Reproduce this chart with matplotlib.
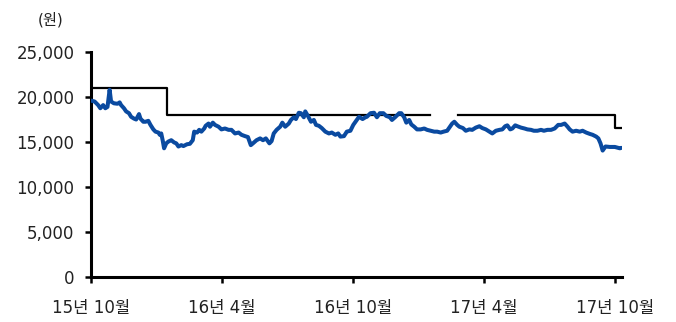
import matplotlib
matplotlib.use("Agg")
import matplotlib.pyplot as plt
import numpy as np
import pandas as pd

plt.rcParams["font.family"] = ["DejaVu Sans", "Noto Sans CJK KR"]

# Daily close (원), sampled every few days
price_dates = [
    "2015-10-01", "2015-10-06", "2015-10-11", "2015-10-14", "2015-10-18", "2015-10-21",
    "2015-10-24", "2015-10-27", "2015-10-29", "2015-11-02", "2015-11-07", "2015-11-10",
    "2015-11-12", "2015-11-16", "2015-11-19", "2015-11-23", "2015-11-26", "2015-11-30",
    "2015-12-03", "2015-12-07", "2015-12-09", "2015-12-13", "2015-12-16", "2015-12-20",
    "2015-12-23", "2015-12-27", "2015-12-30", "2016-01-03", "2016-01-05", "2016-01-07",
    "2016-01-09", "2016-01-11", "2016-01-14", "2016-01-17", "2016-01-21", "2016-01-25",
    "2016-01-28", "2016-01-31", "2016-02-04", "2016-02-07", "2016-02-12", "2016-02-16",
    "2016-02-20", "2016-02-22", "2016-02-26", "2016-02-29", "2016-03-03", "2016-03-07",
    "2016-03-09", "2016-03-13", "2016-03-15", "2016-03-19", "2016-03-22", "2016-03-27",
    "2016-03-31", "2016-04-05", "2016-04-10", "2016-04-14", "2016-04-19", "2016-04-24",
    "2016-04-28", "2016-05-03", "2016-05-07", "2016-05-11", "2016-05-14", "2016-05-19",
    "2016-05-24", "2016-05-28", "2016-06-01", "2016-06-06", "2016-06-09", "2016-06-12",
    "2016-06-16", "2016-06-21", "2016-06-24", "2016-06-28", "2016-07-03", "2016-07-06",
    "2016-07-10", "2016-07-13", "2016-07-17", "2016-07-20", "2016-07-24", "2016-07-26",
    "2016-07-30", "2016-08-03", "2016-08-07", "2016-08-10", "2016-08-14", "2016-08-18",
    "2016-08-23", "2016-08-28", "2016-09-01", "2016-09-06", "2016-09-10", "2016-09-13",
    "2016-09-18", "2016-09-22", "2016-09-27", "2016-10-01", "2016-10-06", "2016-10-09",
    "2016-10-14", "2016-10-18", "2016-10-20", "2016-10-25", "2016-10-30", "2016-11-03",
    "2016-11-07", "2016-11-12", "2016-11-16", "2016-11-21", "2016-11-24", "2016-11-29",
    "2016-12-04", "2016-12-07", "2016-12-11", "2016-12-14", "2016-12-18", "2016-12-21",
    "2016-12-25", "2016-12-29", "2017-01-03", "2017-01-08", "2017-01-12", "2017-01-17",
    "2017-01-22", "2017-01-26", "2017-01-31", "2017-02-04", "2017-02-09", "2017-02-13",
    "2017-02-16", "2017-02-19", "2017-02-23", "2017-02-26", "2017-03-03", "2017-03-07",
    "2017-03-12", "2017-03-16", "2017-03-21", "2017-03-26", "2017-03-30", "2017-04-04",
    "2017-04-09", "2017-04-13", "2017-04-18", "2017-04-23", "2017-04-27", "2017-05-01",
    "2017-05-04", "2017-05-08", "2017-05-11", "2017-05-15", "2017-05-18", "2017-05-23",
    "2017-05-28", "2017-06-01", "2017-06-06", "2017-06-10", "2017-06-15", "2017-06-20",
    "2017-06-24", "2017-06-29", "2017-07-04", "2017-07-09", "2017-07-14", "2017-07-18",
    "2017-07-23", "2017-07-27", "2017-07-30", "2017-08-03", "2017-08-08", "2017-08-13",
    "2017-08-17", "2017-08-22", "2017-08-27", "2017-08-31", "2017-09-05", "2017-09-08",
    "2017-09-11", "2017-09-14", "2017-09-18", "2017-09-24", "2017-10-01", "2017-10-08",
    "2017-10-10",
]
price_values = [
    19600, 19500, 19100, 18750, 19100, 18750,
    18900, 20800, 19500, 19300, 19250, 19400,
    19100, 18750, 18400, 18200, 17800, 17600,
    17500, 18100, 17600, 17250, 17250, 17350,
    16900, 16400, 16150, 16050, 15800, 15950,
    15200, 14300, 14850, 15050, 15200, 14950,
    14850, 14500, 14650, 14550, 14750, 14800,
    15200, 16150, 16050, 16350, 16150, 16500,
    16800, 17050, 16700, 17150, 16900, 16700,
    16400, 16500, 16350, 16350, 15950, 16050,
    15800, 15650, 15550, 14650, 14850, 15200,
    15400, 15200, 15400, 14850, 15100, 15950,
    16350, 16700, 17150, 16700, 17050, 17450,
    17750, 17550, 18250, 18200, 17750, 18400,
    17850, 17250, 17450, 16900, 16800, 16550,
    16150, 15950, 16050, 15800, 15950, 15600,
    15650, 16150, 16250, 16900, 17450, 17800,
    17550, 17750, 17800, 18200, 18250, 17750,
    18200, 18200, 17900, 17750, 17450, 17800,
    18200, 18200, 17750, 17150, 17450, 16950,
    16700, 16400, 16400, 16500, 16350, 16250,
    16150, 16150, 16050, 16150, 16250, 16700,
    17050, 17250, 16900, 16700, 16550, 16250,
    16400, 16350, 16600, 16750, 16550, 16400,
    16150, 15950, 16250, 16350, 16400, 16750,
    16850, 16400, 16500, 16850, 16750, 16600,
    16500, 16400, 16350, 16250, 16250, 16350,
    16250, 16350, 16350, 16500, 16900, 16900,
    17050, 16700, 16400, 16150, 16250, 16150,
    16250, 16050, 15900, 15800, 15600, 15400,
    14850, 14050, 14500, 14450, 14450, 14300,
    14350,
]

# Target price history (step), no target between mid-Jan and late Feb 2017
target_dates = ["2015-10-01", "2016-01-15", "2017-01-16", "2017-02-24", "2017-10-01", "2017-10-10"]
target_values = [21000, 18000, np.nan, 18000, 16500, 16500]

y_ticks = [0, 5000, 10000, 15000, 20000, 25000]
x_tick_dates = ["2015-10-01", "2016-04-01", "2016-10-01", "2017-04-01", "2017-10-01"]
x_tick_labels = ["15년 10월", "16년 4월", "16년 10월", "17년 4월", "17년 10월"]

fig = plt.figure(figsize=(6.76, 3.22), dpi=100)
ax = fig.add_axes([91 / 676, 45 / 322, 531 / 676, 225 / 322])

ax.plot(pd.to_datetime(price_dates), price_values, color="#0a4aa0", lw=2.9,
        solid_joinstyle="round", solid_capstyle="round", zorder=3)
ax.plot(pd.to_datetime(target_dates), target_values, color="black", lw=1.6,
        drawstyle="steps-post", zorder=2)

ax.set_ylim(0, 25000)
ax.set_xlim(pd.Timestamp("2015-10-01"), pd.Timestamp("2017-10-11"))

for side in ("top", "right"):
    ax.spines[side].set_visible(False)
for side in ("left", "bottom"):
    ax.spines[side].set_linewidth(2.2)
    ax.spines[side].set_color("black")

ax.set_yticks(y_ticks)
ax.set_yticklabels([f"{v:,}" for v in y_ticks])
ax.set_xticks(pd.to_datetime(x_tick_dates))
ax.set_xticklabels(x_tick_labels)

ax.tick_params(axis="y", direction="out", length=4, width=1.8, pad=8,
               labelsize=12, labelcolor="#222222")
ax.tick_params(axis="x", direction="out", length=4, width=1.8, pad=12,
               labelsize=12, labelcolor="#222222")

fig.text(38 / 676, 1 - 20 / 322, "(원)", fontsize=11, color="#222222",
         ha="left", va="center")

fig.savefig("out.png", dpi=100)
